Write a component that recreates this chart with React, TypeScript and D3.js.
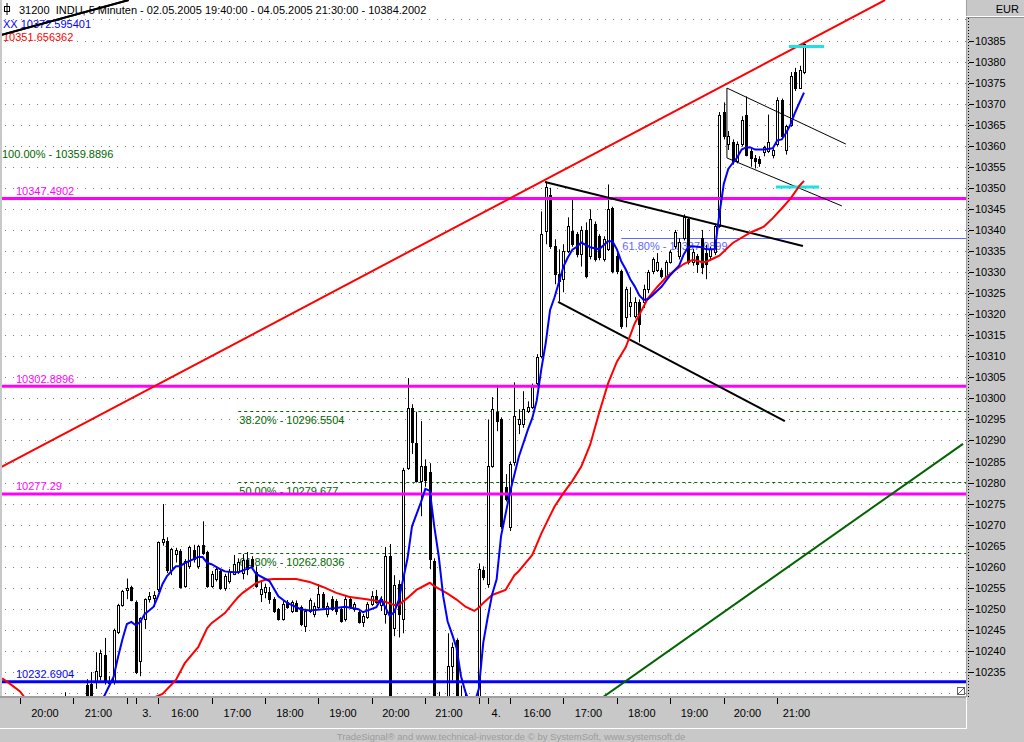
import React from 'react';
import * as d3 from 'd3';

// 5-minute bars, [open, high, low, close]
// 02.05.2005 19:40 - 22:00
const day2Bars: number[][] = [
  [10221, 10224, 10219, 10223], [10223, 10225, 10221, 10222], [10222, 10224, 10219, 10220],
  [10220, 10222, 10217, 10218], [10218, 10221, 10216, 10220], [10220, 10223, 10219, 10222],
  [10222, 10225, 10220, 10224], [10224, 10226, 10221, 10222], [10222, 10224, 10219, 10221],
  [10221, 10225, 10220, 10224], [10224, 10227, 10222, 10226], [10226, 10227.5, 10223, 10224],
  [10224, 10226, 10222, 10225], [10225, 10228, 10224, 10227], [10227, 10230.2, 10225, 10226],
  [10226, 10228, 10223, 10224], [10224, 10227, 10223, 10226], [10226, 10228.5, 10225, 10227.5],
  [10227.5, 10228.8, 10226, 10228], [10231.8, 10233.3, 10227, 10229], [10232.1, 10235, 10228, 10229.5],
  [10232.6, 10239.7, 10231, 10235.2], [10234, 10240.3, 10233, 10239.5], [10239, 10243.1, 10232, 10232.6],
  [10232.4, 10234, 10231.5, 10232.9], [10232.6, 10245.3, 10232, 10245], [10244.5, 10251.2, 10244, 10250.9],
  [10250.9, 10254.5, 10250.5, 10254.2], [10254.5, 10257.2, 10252.3, 10254.9],
];

// 03.05.2005 15:30 - 22:00
const day3Bars: number[][] = [
  [10255.2, 10255.5, 10251.8, 10252.1], [10251.6, 10252, 10234.5, 10235], [10237.6, 10248, 10234, 10247.8],
  [10247.6, 10252.5, 10245.2, 10252.3], [10252.3, 10254, 10251.5, 10253], [10252.5, 10254.2, 10250.5, 10253.3],
  [10254.7, 10266, 10254, 10265.8], [10265.8, 10274.9, 10265, 10266.6], [10266.2, 10267, 10258.5, 10259.2],
  [10259.2, 10264.5, 10258, 10264.2], [10263, 10264.5, 10261, 10263.9], [10263.7, 10264.2, 10254.8, 10255.2],
  [10255.4, 10261.8, 10255, 10261.3], [10260.1, 10265, 10259.5, 10264.7], [10263.9, 10265.2, 10261, 10261.8],
  [10260.1, 10265.2, 10259.5, 10264.9], [10265.1, 10270.8, 10262.8, 10263.2], [10263.4, 10263.8, 10255, 10255.4],
  [10255.4, 10259, 10255, 10258.3], [10257.1, 10260, 10256.5, 10259.4], [10258.9, 10259.3, 10254.5, 10254.9],
  [10254.9, 10258.3, 10254.3, 10257.8], [10256.6, 10259.5, 10256, 10258.9], [10258.3, 10262.8, 10258, 10260.6],
  [10258.7, 10262, 10258.3, 10261.1], [10258.5, 10263, 10257, 10261.5], [10261.5, 10263.5, 10258, 10259.5],
  [10261.8, 10262.5, 10259.5, 10260.1], [10258.7, 10260.1, 10255, 10255.4], [10253.5, 10256.4, 10251.6, 10254.7],
  [10254, 10256, 10252.5, 10255.2], [10254, 10255.2, 10251.2, 10252.3], [10252.3, 10252.8, 10249, 10249.5],
  [10249.9, 10250.2, 10247.2, 10247.6], [10247.6, 10252, 10247.2, 10251.1], [10251.6, 10252.1, 10250, 10250.4],
  [10249.5, 10252, 10249, 10251.6], [10251.3, 10252, 10249.3, 10249.6], [10250.4, 10250.8, 10245.9, 10246.4],
  [10245.9, 10250, 10244.5, 10249.5], [10249.5, 10252.5, 10249, 10252], [10248.8, 10251.5, 10248, 10250.7],
  [10250.4, 10255.9, 10250, 10253.5], [10253.5, 10254, 10250, 10250.4], [10248.8, 10251.5, 10248, 10250.7],
  [10252.3, 10253, 10249.5, 10249.9], [10251.8, 10252.3, 10248.6, 10249.4], [10249.9, 10250.4, 10246.7, 10247.1],
  [10247.6, 10253, 10247, 10252.3], [10252.3, 10253, 10250, 10250.4], [10249.9, 10251.6, 10249.3, 10251.1],
  [10249.2, 10249.6, 10246.5, 10246.9], [10246.9, 10248.8, 10245.7, 10248.3], [10248, 10251.6, 10247.6, 10251.1],
  [10251.1, 10254.2, 10250.7, 10253], [10253, 10254.5, 10251.2, 10251.6], [10250.9, 10253, 10249.5, 10252.3],
  [10248.8, 10264.7, 10246.5, 10262.5], [10262.5, 10265.4, 10226, 10228], [10245.5, 10258, 10243.5, 10255.7],
  [10256, 10256.8, 10243.2, 10248.8], [10247.6, 10283.5, 10244.2, 10282.9], [10283.4, 10304.8, 10283, 10297.7],
  [10297.7, 10298.6, 10286.8, 10289.6], [10289.3, 10296.8, 10280, 10280.3], [10280.3, 10294.6, 10272, 10283.9],
  [10284, 10285.5, 10279, 10280.5], [10282.5, 10284.6, 10259.4, 10261.8], [10261.3, 10262, 10222, 10224],
  [10224, 10230.3, 10220, 10226], [10226, 10228, 10221, 10225], [10225, 10244.2, 10224, 10236.4],
  [10236.4, 10242, 10233, 10241], [10242.6, 10243, 10224, 10226], [10226, 10231.8, 10222, 10229],
  [10229, 10230.8, 10223, 10225], [10225, 10228, 10221, 10224], [10224, 10227.5, 10220, 10226],
  [10226, 10260.8, 10224, 10259.4],
];

// 04.05.2005 15:30 - 21:30
const day4Bars: number[][] = [
  [10259.2, 10260.1, 10256.8, 10257.5], [10255.9, 10295, 10255, 10283.9], [10283.9, 10300.3, 10283.5, 10297.4],
  [10296.7, 10302.9, 10292.2, 10294.6], [10295, 10295.5, 10269, 10269.6], [10278.9, 10282, 10275.5, 10276.1],
  [10269.4, 10285, 10268.5, 10284.4], [10284.8, 10303.8, 10284, 10295.8], [10293.8, 10297.4, 10291.5, 10295],
  [10293.8, 10301.7, 10293, 10297.4], [10297, 10299.3, 10296.5, 10297.9], [10297.9, 10303.5, 10297.5, 10302.9],
  [10303.6, 10310.5, 10303, 10309.8], [10310, 10344.4, 10309.5, 10339], [10339.7, 10351.5, 10336.6, 10350.1],
  [10348.4, 10350, 10335.5, 10336.1], [10336.1, 10337.8, 10327.1, 10329.5], [10329.5, 10335.4, 10323, 10327.8],
  [10328.3, 10336.6, 10325.2, 10334.9], [10334.9, 10343, 10334.5, 10340.9], [10339.7, 10347.3, 10336, 10336.6],
  [10339, 10339.5, 10333.5, 10334.2], [10334.2, 10340.9, 10331.3, 10340.1], [10340.1, 10341.8, 10328.5, 10329],
  [10333.7, 10344.9, 10333, 10342.5], [10341.3, 10342, 10332.5, 10333], [10338.5, 10339, 10332.8, 10333.5],
  [10333, 10338.5, 10332.5, 10337.8], [10335.4, 10350.8, 10335, 10344.9], [10345.1, 10345.5, 10329.7, 10330.2],
  [10333.7, 10334.5, 10329.5, 10330.2], [10330.2, 10330.6, 10316.5, 10317.1], [10319.3, 10326.5, 10316.9, 10325.9],
  [10321.9, 10326.4, 10319.3, 10322.8], [10319.5, 10324, 10319, 10323], [10323, 10323.5, 10313.3, 10317.6],
  [10322.8, 10327, 10321.5, 10325.9], [10325.9, 10330.5, 10325, 10329.9], [10330.2, 10333.5, 10329.5, 10333],
  [10330.6, 10334.5, 10330, 10332.5], [10330.6, 10331, 10328.5, 10329], [10329, 10332.8, 10328.5, 10332.3],
  [10332.5, 10335.2, 10332, 10334.7], [10336.1, 10340, 10335.5, 10339.4], [10333.7, 10338, 10333, 10337.1],
  [10338.2, 10343.7, 10337.5, 10343], [10342.5, 10343, 10331.8, 10332.3], [10332.3, 10335.5, 10331.5, 10334.7],
  [10333.7, 10334.3, 10329.8, 10331.8], [10338, 10340, 10329.5, 10331.3], [10334.5, 10336.5, 10328.3, 10331.8],
  [10333.7, 10336, 10332.8, 10335.4], [10334.7, 10341.5, 10334, 10340.9], [10340.9, 10368, 10340.5, 10367.4],
  [10368.1, 10370.3, 10361.5, 10362.2], [10360.3, 10363.5, 10359, 10362.2], [10361, 10361.5, 10355.5, 10356.3],
  [10356.3, 10361, 10355.8, 10360.3], [10360.3, 10367, 10359.8, 10366.2], [10367.2, 10371.7, 10357.5, 10357.9],
  [10358.7, 10359.3, 10355, 10357.2], [10357.2, 10357.8, 10354.6, 10356.3], [10356.8, 10357.5, 10355, 10356],
  [10358.4, 10360, 10357.5, 10359.6], [10358.7, 10367.4, 10358.3, 10360.8], [10357.9, 10359.6, 10357, 10359.1],
  [10360.3, 10371.5, 10359.8, 10370.8], [10370.8, 10371.2, 10361.5, 10362.2], [10359.1, 10365, 10357.9, 10364.6],
  [10365, 10377.5, 10364.5, 10376.5], [10377.6, 10378.5, 10373, 10373.8], [10373.8, 10379, 10373.5, 10378.1],
  [10377.6, 10384.5, 10377, 10384.2],
];

// averages as [bar, value]
const fastAvg: [number, number][] = [
  [21, 10226.5], [22, 10227.8], [23, 10229.5], [25, 10233.8], [26, 10238.5], [27, 10242.8], [28, 10246.4],
  [29, 10246.9], [30, 10246.1], [31, 10246.9], [32, 10248.8], [33, 10249.6], [34, 10250.5], [35, 10253],
  [36, 10255.9], [37, 10257.8], [39, 10260.1], [40, 10260.1], [41, 10260.9], [43, 10261.8], [44, 10262.3],
  [45, 10262.3], [46, 10260.9], [47, 10260.6], [49, 10259.4], [50, 10258.9], [52, 10258.7], [53, 10258.7],
  [56, 10259.9], [57, 10258.3], [60, 10256.6], [62, 10253], [64, 10251.4], [67, 10249.9], [69, 10249.6],
  [72, 10249.9], [75, 10250.2], [77, 10250.5], [80, 10249.9], [81, 10249.2], [84, 10250.4], [85, 10252.3],
  [86, 10250.4], [87, 10248.3], [88, 10249.2], [89, 10252], [91, 10262], [92, 10269.6], [94, 10275.3],
  [95, 10278.5], [96, 10278], [97, 10269.6], [98, 10262.5], [99, 10253], [100, 10247], [101, 10244],
  [102, 10240.7], [103, 10234], [104, 10230.2], [105, 10227.5], [106, 10227.5], [107, 10231], [108, 10242],
  [109, 10248], [110, 10253.5], [111, 10257], [112, 10267.3], [114, 10277.7], [116, 10286.2], [118, 10292.5],
  [119, 10295.3], [120, 10299.5], [121, 10306.7], [122, 10313], [123, 10321], [124, 10324], [125, 10327.6],
  [126, 10331.3], [127, 10333.5], [128, 10335.3], [129, 10336], [130, 10337], [132, 10335.9], [134, 10335.4],
  [136, 10337.3], [137, 10337.3], [138, 10335.4], [139, 10332.5], [140, 10330.6], [141, 10328.3], [142, 10326.6],
  [143, 10324.5], [144, 10323.4], [145, 10323.6], [146, 10324.5], [148, 10326.5], [150, 10329.3], [152, 10331.6],
  [153, 10334.2], [154, 10335.9], [155, 10336.1], [157, 10335.9], [158, 10335.4], [160, 10335.4], [161, 10343.7],
  [162, 10351], [163, 10354.5], [164, 10355.9], [165, 10357.2], [166, 10359.1], [167, 10359.6], [168, 10359.6],
  [169, 10359.1], [171, 10359.1], [173, 10359.4], [174, 10361.3], [175, 10361.5], [176, 10363.1], [177, 10365.1],
  [178, 10367.9], [179, 10370.3], [180, 10372.6],
];

const slowAvg: [number, number][] = [
  [0, 10233.5], [2, 10232], [4, 10230.4], [5, 10229], [8, 10228.4], [12, 10227.8], [18, 10226.8], [26, 10226.8],
  [32, 10228], [36, 10229.8], [39, 10233.1], [41, 10237.1], [44, 10240.9], [46, 10245.4], [47, 10246.6],
  [50, 10249], [52, 10251.6], [53, 10252.8], [54, 10253.8], [57, 10256.1], [59, 10256.9], [61, 10257.1],
  [66, 10257.1], [69, 10256.4], [72, 10255.2], [75, 10253.8], [78, 10252.8], [81, 10252.4], [84, 10251.9],
  [86, 10251.7], [88, 10250.9], [89, 10250.9], [91, 10252.6], [93, 10254.5], [96, 10256.2], [97, 10255.4],
  [100, 10253.6], [102, 10252.2], [104, 10250.5], [106, 10249.5], [107, 10250.3], [108, 10251.4], [110, 10253.3],
  [113, 10254.5], [115, 10258], [116, 10259], [119, 10262.8], [121, 10267.8], [122, 10270], [124, 10274.3],
  [126, 10277.5], [128, 10280.4], [130, 10283.8], [132, 10289], [134, 10296.5], [136, 10303.5], [138, 10308.7],
  [140, 10312.2], [142, 10317.8], [143, 10319.8], [145, 10323.8], [147, 10326.4], [149, 10328.7], [151, 10330.4],
  [153, 10331.9], [155, 10332.9], [157, 10332.4], [158, 10332.4], [160, 10333.4], [161, 10333.9], [164, 10336.9],
  [168, 10339.4], [171, 10340.8], [173, 10342.8], [175, 10345.1], [177, 10347.5], [179, 10350.5], [180, 10351.66],
];

const magentaLevels = [10347.4902, 10302.8896, 10277.29];
const blueLevels = [10232.6904];

const fibPcts = ['100.00%', '38.20%', '50.00%', '61.80%'];
const fibValues = [10359.8896, 10296.5504, 10279.677, 10262.8036];
const innerFibPct = '61.80%';
const innerFibValue = 10337.9899;

// drawn lines, [bar, value] end points
const redTrend: [number, number][][] = [[[-0.5, 10283.5], [198.2, 10394.6]]];
const blackThick: [number, number][][] = [
  [[-0.3, 10386.3], [28.4, 10394.6]],
  [[121.85, 10351.4], [179.76, 10336.2]],
  [[124.8, 10322.9], [175.7, 10294.6]],
];
const blackThin: [number, number][][] = [
  [[162.7, 10373.7], [189.4, 10360.4]],
  [[162.7, 10357.1], [188.5, 10345.7]],
  [[162.7, 10373.7], [162.7, 10357.1]],
];
const greenTrend: [number, number][][] = [[[134.9, 10229.05], [215.7, 10289.2]]];
const cyanMarks: [number, number][][] = [
  [[176.6, 10383.6], [184.5, 10383.6]],
  [[173.7, 10350.2], [183.4, 10350.2]],
];

const hourTicks = [4, 16, 28, 30, 35, 47, 59, 71, 83, 95, 107, 109, 114, 126, 138, 150, 162, 174];
const timeLabels = ['20:00', '21:00', '3.', '16:00', '17:00', '18:00', '19:00', '20:00', '21:00',
  '4.', '16:00', '17:00', '18:00', '19:00', '20:00', '21:00'];
const timeLabelBars = [9.6, 21.6, 32.5, 41, 52.8, 64.6, 76.5, 88.4, 100.3, 110.9, 120.1, 131.6, 143.6, 155.4, 167.3, 178.3];

const W = 1024;
const H = 742;
const PL = 2;
const PR = 966;
const PB = 697;
const FONT = "'Liberation Sans', Arial, sans-serif";
const FS = 11;

const x = d3.scaleLinear().domain([0, 180]).range([2.18, 804]);
const y = d3.scaleLinear().domain([10235, 10385]).range([672, 40.5]);

const px = (v: number) => Math.round(v) + 0.5;

export default function App() {
  const bars = [...day2Bars, ...day3Bars, ...day4Bars];
  const line = d3.line<[number, number]>().x(d => x(d[0])).y(d => y(d[1]));
  const grid = d3.range(10230, 10395, 5);
  const axisVals = d3.range(10235, 10386, 5);

  const segs = (list: [number, number][][], color: string, w: number, key: string) =>
    list.map((s, i) => (
      <path key={key + i} d={line(s) || ''} stroke={color} strokeWidth={w} fill="none" />
    ));

  return (
    <svg width={W} height={H} style={{ position: 'absolute', left: 0, top: 0, display: 'block' }}
      fontFamily={FONT}>
      <defs>
        <clipPath id="plotClip">
          <rect x={PL} y={0} width={PR - PL} height={PB - 1} />
        </clipPath>
      </defs>
      <rect width={W} height={H} fill="#c8c8c8" />
      <rect x={PL} y={0} width={PR - PL} height={PB} fill="#fff" />

      <g clipPath="url(#plotClip)">
        {grid.map(v => (
          <line key={v} x1={5} x2={PR} y1={px(y(v))} y2={px(y(v))} stroke="#808080" strokeDasharray="1 7" />
        ))}

        {fibValues.slice(1).map((v, i) => (
          <line key={'fl' + i} x1={x(53)} x2={PR} y1={px(y(v) - 2)} y2={px(y(v) - 2)}
            stroke="#006400" strokeDasharray="3 3" />
        ))}
        {fibValues.map((v, i) => (
          <text key={'ft' + i} x={i === 0 ? 2 : x(53) + 1} y={y(v) + 11.5} fontSize={FS} fill="#006400">
            {`${fibPcts[i]} - ${v}`}
          </text>
        ))}
        <line x1={x(139)} x2={PR} y1={px(y(innerFibValue))} y2={px(y(innerFibValue))} stroke="#6464ff" />
        <text x={x(139) + 1} y={y(innerFibValue) + 11.5} fontSize={FS} fill="#6464ff">
          {`${innerFibPct} - ${innerFibValue}`}
        </text>

        {bars.map((b, i) => {
          const [o, h, l, c] = b;
          const cx = px(x(i));
          const top = Math.round(y(Math.max(o, c)));
          const bot = Math.round(y(Math.min(o, c)));
          const hgt = Math.max(1, bot - top);
          return (
            <g key={'c' + i}>
              <line x1={cx} x2={cx} y1={y(h)} y2={y(l)} stroke="#000" />
              {c >= o ? (
                <rect x={cx - 1} y={top + 0.5} width={2} height={hgt} fill="#fff" stroke="#000" />
              ) : (
                <rect x={cx - 1.5} y={top} width={3} height={hgt + 1} fill="#000" />
              )}
            </g>
          );
        })}

        {magentaLevels.map(v => (
          <g key={'m' + v}>
            <line x1={PL} x2={PR} y1={y(v)} y2={y(v)} stroke="#ff00ff" strokeWidth={3} />
            <text x={16} y={y(v) - 3.5} fontSize={FS} fill="#ff00ff">{String(v)}</text>
          </g>
        ))}
        {blueLevels.map(v => (
          <g key={'b' + v}>
            <line x1={PL} x2={PR} y1={y(v)} y2={y(v)} stroke="#0000ff" strokeWidth={3} />
            <text x={16} y={y(v) - 3.5} fontSize={FS} fill="#0000ff">{String(v)}</text>
          </g>
        ))}

        {segs(redTrend, '#ff0000', 2, 'rt')}
        {segs(blackThick, '#000', 2, 'bk')}
        {segs(blackThin, '#000', 1, 'bt')}
        {segs(greenTrend, '#006400', 2, 'gt')}
        {segs(cyanMarks, '#20e0e0', 3, 'cy')}

        <path d={line(slowAvg) || ''} stroke="#ff0000" strokeWidth={2} fill="none" />
        <path d={line(fastAvg) || ''} stroke="#0000ff" strokeWidth={2} fill="none" />
      </g>

      {/* header */}
      <rect x={4.5} y={6.5} width={5} height={5} fill="none" stroke="#000" />
      <line x1={7} x2={7} y1={3} y2={15} stroke="#000" />
      <text x={19} y={14} fontSize={FS} fill="#000" style={{ whiteSpace: 'pre' }}>
        {'31200  INDU, 5 Minuten - 02.05.2005 19:40:00 - 04.05.2005 21:30:00 - 10384.2002'}
      </text>
      <text x={3} y={27.5} fontSize={FS} fill="#0000ff">XX 10372.595401</text>
      <text x={3} y={41} fontSize={FS} fill="#ff0000">10351.656362</text>
      <g clipPath="url(#plotClip)">{segs([blackThick[0]], '#000', 2, 'hd')}</g>

      <rect x={957.5} y={687.5} width={7} height={7} fill="#fff" stroke="#606060" />
      <line x1={958} x2={964} y1={694} y2={688} stroke="#606060" />

      {/* right axis */}
      <line x1={966.5} x2={966.5} y1={0} y2={PB} stroke="#a0a0a0" />
      <line x1={966} x2={W} y1={16.5} y2={16.5} stroke="#fff" />
      <line x1={966} x2={W} y1={17.5} y2={17.5} stroke="#909090" />
      <text x={1019} y={13} fontSize={FS} textAnchor="end" fill="#000">EUR</text>
      <line x1={968.5} x2={968.5} y1={18} y2={PB} stroke="#000" strokeDasharray="1 2" />
      {axisVals.map(v => (
        <g key={'a' + v}>
          <line x1={969} x2={974} y1={px(y(v))} y2={px(y(v))} stroke="#000" />
          <text x={975} y={y(v) + 4} fontSize={FS} fill="#000">{v}</text>
        </g>
      ))}

      {/* time axis */}
      <rect x={0} y={PB - 1} width={PR} height={2} fill="#a0a0a0" />
      <line x1={0} x2={PR} y1={728.5} y2={728.5} stroke="#fff" />
      <line x1={PR + 0.5} x2={PR + 0.5} y1={PB} y2={729} stroke="#fff" />
      {hourTicks.map(b => (
        <line key={'t' + b} x1={px(x(b))} x2={px(x(b))} y1={698} y2={704} stroke="#000" />
      ))}
      {timeLabels.map((t, i) => (
        <text key={'l' + i} x={x(timeLabelBars[i])} y={717} fontSize={FS} textAnchor="middle" fill="#000">
          {t}
        </text>
      ))}
      <text x={511} y={740} fontSize={9.5} textAnchor="middle" fill="#9c9c9c">
        TradeSignal® and www.technical-investor.de © by  SystemSoft, www.systemsoft.de
      </text>
    </svg>
  );
}
